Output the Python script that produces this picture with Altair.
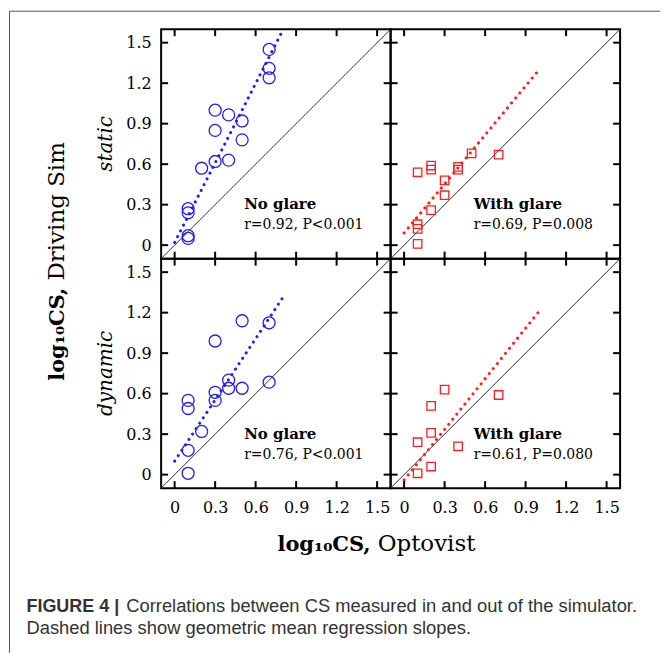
import altair as alt
import pandas as pd

# ---------------- data ----------------
ticks = [0, 0.3, 0.6, 0.9, 1.2, 1.5]
domain = [-0.1, 1.6]

static_noglare_x = [0.1, 0.1, 0.1, 0.1, 0.2, 0.3, 0.3, 0.3, 0.4, 0.4, 0.5, 0.5, 0.7, 0.7, 0.7]
static_noglare_y = [0.05, 0.07, 0.24, 0.27, 0.57, 0.62, 0.85, 1.00, 0.63, 0.965, 0.78, 0.92, 1.24, 1.31, 1.45]

static_glare_x = [0.1, 0.1, 0.1, 0.1, 0.2, 0.2, 0.2, 0.3, 0.3, 0.4, 0.4, 0.5, 0.7]
static_glare_y = [0.01, 0.12, 0.155, 0.54, 0.26, 0.56, 0.59, 0.37, 0.48, 0.56, 0.58, 0.68, 0.67]

dynamic_noglare_x = [0.1, 0.1, 0.1, 0.1, 0.2, 0.3, 0.3, 0.3, 0.4, 0.4, 0.5, 0.5, 0.7, 0.7]
dynamic_noglare_y = [0.01, 0.18, 0.49, 0.55, 0.32, 0.55, 0.61, 0.99, 0.64, 0.70, 0.64, 1.14, 0.685, 1.125]

dynamic_glare_x = [0.1, 0.1, 0.2, 0.2, 0.2, 0.3, 0.4, 0.7]
dynamic_glare_y = [0.01, 0.24, 0.06, 0.31, 0.51, 0.63, 0.21, 0.59]

# geometric-mean regression lines (end points)
reg_static_noglare = ([0.0, 0.8], [0.02, 1.59])
reg_static_glare = ([0.0, 1.0], [0.09, 1.30])
reg_dynamic_noglare = ([0.0, 0.8], [0.10, 1.31])
reg_dynamic_glare = ([0.0, 1.0], [-0.04, 1.21])

labels = ["No glare", "With glare", "No glare", "With glare"]
stats = ["r=0.92, P<0.001", "r=0.69, P=0.008", "r=0.76, P<0.001", "r=0.61, P=0.080"]

# ---------------- layout ----------------
W = H = 230
TL = 7
SERIF = "DejaVu Serif"
SANS = "Liberation Sans"
BLUE = "#1f1fff"
RED = "#ff2020"

xs = alt.Scale(domain=domain, nice=False, zero=False)
ys = alt.Scale(domain=domain, nice=False, zero=False)


def make_axis(show, orient):
    if not show:
        return None
    if orient == "bottom":
        return alt.Axis(values=ticks, format="~g", title=None, labelPadding=11)
    return alt.Axis(values=ticks, format="~g", title=None, labelPadding=10)


def gtext(text, x, y, **kw):
    return alt.Chart(pd.DataFrame({"t": [text]})).mark_text(**kw).encode(
        text="t:N", x=alt.value(x), y=alt.value(y)
    )


def panel(px, py, shape, color, size, reg, label, stat, show_x, show_y, extra=None):
    xa = make_axis(show_x, "bottom")
    ya = make_axis(show_y, "left")

    def X(f):
        return alt.X(f, type="quantitative", scale=xs, axis=xa)

    def Y(f):
        return alt.Y(f, type="quantitative", scale=ys, axis=ya)

    pts = alt.Chart(pd.DataFrame({"x": px, "y": py})).mark_point(
        shape=shape, filled=False, color=color, size=size, strokeWidth=1.3, opacity=1
    ).encode(x=X("x"), y=Y("y"))

    diag = alt.Chart(pd.DataFrame({"x": domain, "y": domain})).mark_line(
        color="#333333", strokeWidth=1, clip=True
    ).encode(x=X("x"), y=Y("y"))

    regl = alt.Chart(pd.DataFrame({"x": reg[0], "y": reg[1]})).mark_line(
        color=color, strokeWidth=3, strokeDash=[0.1, 6.4], strokeCap="round", clip=True
    ).encode(x=X("x"), y=Y("y"))

    tdf = pd.DataFrame({"t": ticks})
    tb = alt.Chart(tdf).mark_rule(color="black", strokeWidth=2).encode(
        x=X("t"), y=alt.value(H), y2=alt.value(H - TL))
    tt = alt.Chart(tdf).mark_rule(color="black", strokeWidth=2).encode(
        x=X("t"), y=alt.value(0), y2=alt.value(TL))
    tlft = alt.Chart(tdf).mark_rule(color="black", strokeWidth=2).encode(
        y=Y("t"), x=alt.value(0), x2=alt.value(TL))
    trt = alt.Chart(tdf).mark_rule(color="black", strokeWidth=2).encode(
        y=Y("t"), x=alt.value(W), x2=alt.value(W - TL))

    adf = pd.DataFrame({"x": [0.515, 0.515], "y": [0.265, 0.118], "t": [label, stat]})
    lab = alt.Chart(adf.iloc[[0]]).mark_text(
        align="left", baseline="alphabetic", font=SERIF, fontWeight="bold", fontSize=15, color="black"
    ).encode(x=X("x"), y=Y("y"), text="t:N")
    st = alt.Chart(adf.iloc[[1]]).mark_text(
        align="left", baseline="alphabetic", font=SERIF, fontSize=14, color="black"
    ).encode(x=X("x"), y=Y("y"), text="t:N")

    layers = [diag, regl, pts, tb, tt, tlft, trt, lab, st]
    if extra:
        layers += extra
    return alt.layer(*layers).properties(width=W, height=H)


# global annotations, drawn in the top-left panel's frame
extras = [
    # y title (rotated)
    gtext("log₁₀CS,", -97, 259, angle=270, align="right", baseline="alphabetic",
          font=SERIF, fontWeight="bold", fontSize=21, color="black"),
    gtext("Driving Sim", -97, 252, angle=270, align="left", baseline="alphabetic",
          font=SERIF, fontSize=23, color="black"),
    # row labels
    gtext("static", -55, 115, angle=270, align="center", baseline="middle",
          font=SERIF, fontStyle="italic", fontSize=20, color="black"),
    gtext("dynamic", -55, 345, angle=270, align="center", baseline="middle",
          font=SERIF, fontStyle="italic", fontSize=20, color="black"),
    # x title
    gtext("log₁₀CS,", 210, 523, align="right", baseline="alphabetic",
          font=SERIF, fontWeight="bold", fontSize=21, color="black"),
    gtext("Optovist", 217, 523, align="left", baseline="alphabetic",
          font=SERIF, fontSize=23, color="black"),
    # caption
    gtext("FIGURE 4 |", -135, 584, align="left", baseline="alphabetic",
          font=SANS, fontWeight="bold", fontSize=18, color="#333333"),
    gtext("Correlations between CS measured in and out of the simulator.", -35, 584,
          align="left", baseline="alphabetic", font=SANS, fontSize=18.4, color="#333333"),
    gtext("Dashed lines show geometric mean regression slopes.", -135, 606,
          align="left", baseline="alphabetic", font=SANS, fontSize=18.4, color="#333333"),
]

border = [
    alt.Chart(pd.DataFrame({"a": [0]})).mark_rule(color="#555555", strokeWidth=1).encode(
        x=alt.value(-152), x2=alt.value(500), y=alt.value(-18)),
    alt.Chart(pd.DataFrame({"a": [0]})).mark_rule(color="#555555", strokeWidth=1).encode(
        x=alt.value(-152), y=alt.value(-18), y2=alt.value(625)),
]

p1 = panel(static_noglare_x, static_noglare_y, "circle", BLUE, 144, reg_static_noglare,
           labels[0], stats[0], False, True, extras + border)
p2 = panel(static_glare_x, static_glare_y, "square", RED, 72, reg_static_glare,
           labels[1], stats[1], False, False)
p3 = panel(dynamic_noglare_x, dynamic_noglare_y, "circle", BLUE, 144, reg_dynamic_noglare,
           labels[2], stats[2], True, True)
p4 = panel(dynamic_glare_x, dynamic_glare_y, "square", RED, 72, reg_dynamic_glare,
           labels[3], stats[3], True, False)

chart = alt.concat(p1, p2, p3, p4, columns=2, spacing=0, bounds="flush").configure_view(
    stroke="black", strokeWidth=2
).configure_axis(
    labelFont=SERIF, labelFontSize=16, labelColor="black", grid=False, ticks=False,
    domain=False, labelFlush=False
).properties(
    padding={"left": 7.5, "top": 8.5, "right": 0, "bottom": 0},
    background="white",
)

chart.save("out.html", embed_options={"renderer": "svg", "actions": False})
